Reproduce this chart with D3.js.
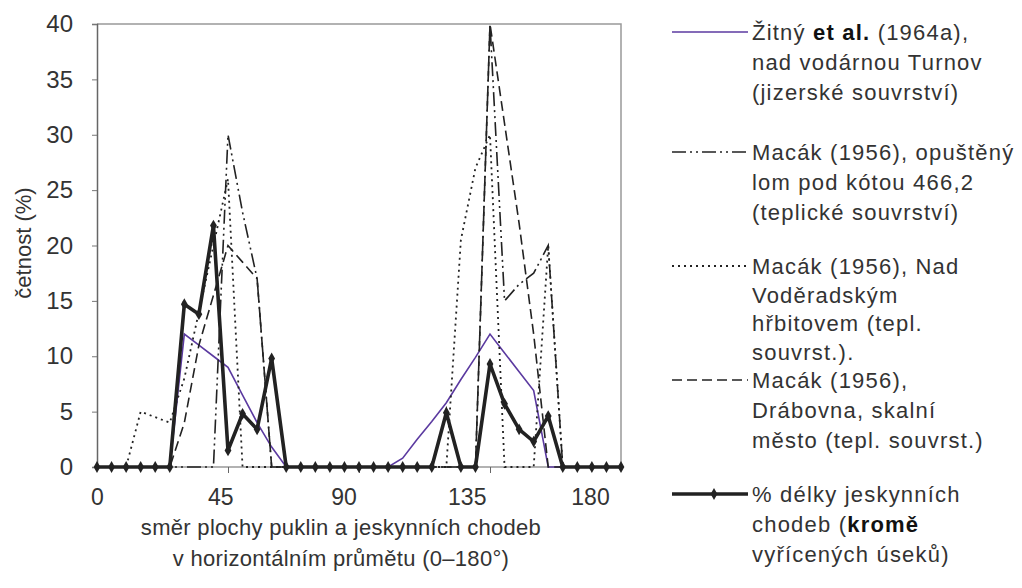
<!DOCTYPE html>
<meta charset="utf-8">
<html>
<head>
    <script src="https://cdn.jsdelivr.net/npm/d3@7/dist/d3.min.js"></script>
    <style>
        body { margin: 0; background: #fff; }
        text { font-family: "Liberation Sans", Arial, sans-serif; fill: #333; }
    </style>
</head>
<body>
    <script>
    // směr (stupně), po 5°
    var smer = [0, 5, 10, 15, 20, 25, 30, 35, 40, 45, 50, 55, 60, 65, 70, 75, 80, 85, 90,
                95, 100, 105, 110, 115, 120, 125, 130, 135, 140, 145, 150, 155, 160, 165, 170, 175, 180];

    var zitny      = [0, 0, 0, 0, 0, 0, 12, 11, 10, 9, 6.5, 4, 1.8, 0, 0, 0, 0, 0, 0,
                      0, 0, 0.8, 2.5, 4.1, 5.8, 7.9, 9.9, 12, 10.3, 8.6, 6.9, 0, 0, 0, 0, 0, 0];
    var opusteny   = [0, 0, 0, 0, 0, 0, 0, 0, 0, 30, 23, 17, 0, 0, 0, 0, 0, 0, 0,
                      0, 0, 0, 0, 0, 0, 0, 0, 40, 15, 16.5, 17.5, 20, 0, 0, 0, 0, 0];
    var voderadsky = [0, 0, 0, 5, 4.5, 4, 8, 14, 20, 26, 0, 0, 0, 0, 0, 0, 0, 0, 0,
                      0, 0, 0, 0, 0, 0, 20.5, 27, 30, 0, 0, 0, 20, 0, 0, 0, 0, 0];
    var drabovna   = [0, 0, 0, 0, 0, 0, 4, 11, 15.5, 20, 18.5, 17, 0, 0, 0, 0, 0, 0, 0,
                      0, 0, 0, 0, 0, 0, 0, 0, 40, 31, 22, 12, 0, 0, 0, 0, 0, 0];
    var jeskyne    = [0, 0, 0, 0, 0, 0, 14.7, 13.8, 21.8, 1.5, 4.8, 3.4, 9.8, 0, 0, 0, 0, 0, 0,
                      0, 0, 0, 0, 0, 4.9, 0, 0, 9.3, 5.7, 3.4, 2.3, 4.6, 0, 0, 0, 0, 0];

    var yTicks = [0, 5, 10, 15, 20, 25, 30, 35, 40];
    var xTicks = [0, 45, 90, 135, 180];

    var legendTexts = [
        ["Žitný |et al.| (1964a),", "nad vodárnou Turnov", "(jizerské souvrství)"],
        ["Macák (1956), opuštěný", "lom pod kótou 466,2", "(teplické souvrství)"],
        ["Macák (1956), Nad", "Voděradským", "hřbitovem (tepl.", "souvrst.)."],
        ["Macák (1956),", "Drábovna, skalní", "město (tepl. souvrst.)"],
        ["% délky jeskynních", "chodeb (|kromě|", "vyřícených úseků)"]
    ];

    var series = [
        { data: zitny, color: "#5b3aa0", width: 1.6, dash: null },
        { data: opusteny, color: "#222", width: 1.6, dash: "14,4,2,4,2,4" },
        { data: voderadsky, color: "#222", width: 1.8, dash: "2,4" },
        { data: drabovna, color: "#222", width: 1.6, dash: "10,5" },
        { data: jeskyne, color: "#222", width: 3.6, dash: null, markers: true }
    ];

    var svg = d3.select("body").append("svg")
        .attr("width", 1022)
        .attr("height", 588);

    var x = d3.scaleLinear().domain([0, 180]).range([97, 621]);
    var xLabel = d3.scaleLinear().domain([0, 180]).range([97, 590]);
    var y = d3.scaleLinear().domain([0, 40]).range([467, 24]);

    // rámeček
    svg.append("path")
        .attr("d", "M" + x(0) + "," + y(40) + "H" + x(180) + "V" + y(0) + "H" + x(0))
        .attr("fill", "none")
        .attr("stroke", "#999")
        .attr("stroke-width", 1.5);

    var yAxis = svg.append("g")
        .attr("transform", "translate(" + x(0) + ",0)")
        .call(d3.axisLeft(y).tickValues(yTicks).tickSize(5).tickPadding(19));
    yAxis.select(".domain").attr("stroke", "#666").attr("stroke-width", 1.5);
    yAxis.selectAll(".tick line").attr("stroke", "#777");
    yAxis.selectAll("text").style("font-size", "24px").attr("fill", "#333")
        .attr("font-family", null);

    var xAxis = svg.append("g")
        .attr("transform", "translate(0," + y(0) + ")")
        .call(d3.axisBottom(x).tickValues([45, 90, 135]).tickSize(6).tickFormat(""));
    xAxis.select(".domain").remove();
    xAxis.selectAll(".tick line").attr("stroke", "#666");

    var xLab = svg.append("g")
        .attr("transform", "translate(0," + (y(0) + 19) + ")")
        .call(d3.axisBottom(xLabel).tickValues(xTicks).tickSize(0));
    xLab.select(".domain").remove();
    xLab.selectAll("text").style("font-size", "23px").attr("fill", "#333")
        .attr("font-family", null);

    svg.append("text")
        .attr("x", 341).attr("y", 535)
        .attr("text-anchor", "middle")
        .style("font-size", "22px")
        .style("letter-spacing", "0.3px")
        .text("směr plochy puklin a jeskynních chodeb");
    svg.append("text")
        .attr("x", 341).attr("y", 566)
        .attr("text-anchor", "middle")
        .style("font-size", "22px")
        .style("letter-spacing", "0.3px")
        .text("v horizontálním průmětu (0–180°)");

    svg.append("text")
        .attr("transform", "translate(31,243) rotate(-90)")
        .attr("text-anchor", "middle")
        .style("font-size", "22px")
        .text("četnost (%)");

    var line = d3.line()
        .x(function(d, i) { return x(smer[i]); })
        .y(function(d) { return y(d); });

    series.forEach(function(s) {
        svg.append("path")
            .datum(s.data)
            .attr("d", line)
            .attr("fill", "none")
            .attr("stroke", s.color)
            .attr("stroke-width", s.width)
            .attr("stroke-dasharray", s.dash)
            .attr("stroke-linejoin", "miter");
        if (s.markers) {
            svg.selectAll(".m")
                .data(s.data)
                .enter()
                .append("path")
                .attr("transform", function(d, i) { return "translate(" + x(smer[i]) + "," + y(d) + ")"; })
                .attr("d", d3.symbol().type(d3.symbolDiamond).size(40))
                .attr("fill", "#222");
        }
    });

    // legenda
    var legY = [32, 152, 266, 380, 494];
    var legGap = [30, 30, 28.5, 30, 30];
    var lg = svg.append("g");
    series.forEach(function(s, k) {
        lg.append("line")
            .attr("x1", 672).attr("x2", 748)
            .attr("y1", legY[k]).attr("y2", legY[k])
            .attr("stroke", s.color)
            .attr("stroke-width", s.width)
            .attr("stroke-dasharray", s.dash);
        if (s.markers) {
            lg.append("path")
                .attr("transform", "translate(714," + legY[k] + ")")
                .attr("d", d3.symbol().type(d3.symbolDiamond).size(40))
                .attr("fill", "#222");
        }
        legendTexts[k].forEach(function(t, j) {
            var tx = lg.append("text")
                .attr("x", 752)
                .attr("y", legY[k] + 8 + j * legGap[k])
                .style("font-size", "22px")
                .style("letter-spacing", "1.2px");
            t.split("|").forEach(function(part, p) {
                tx.append("tspan")
                    .style("font-weight", p % 2 ? "bold" : "normal")
                    .attr("fill", p % 2 ? "#111" : "#333")
                    .text(part);
            });
        });
    });
    </script>
</body>
</html>
